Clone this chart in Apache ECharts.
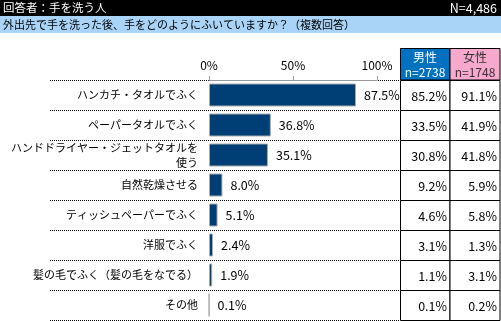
<!DOCTYPE html>
<html><head><meta charset="utf-8">
<script src="https://cdn.jsdelivr.net/npm/echarts@6/dist/echarts.min.js"></script>
<style>html,body{margin:0;padding:0;background:#fff}#c{width:501px;height:321px}</style>
</head><body><div id="c"></div>
<script>
const categories = ['ハンカチ・タオルでふく','ペーパータオルでふく','ハンドドライヤー・ジェットタオルを\n使う','自然乾燥させる','ティッシュペーパーでふく','洋服でふく','髪の毛でふく（髪の毛をなでる）','その他'];
const totalValues = [87.5,36.8,35.1,8.0,5.1,2.4,1.9,0.1];
const maleValues = [85.2,33.5,30.8,9.2,4.6,3.1,1.1,0.1];
const femaleValues = [91.1,41.9,41.8,5.9,5.8,1.3,3.1,0.2];
const xTicks = [0,50,100];
const headerLeft = '回答者：手を洗う人';
const headerRight = 'N=4,486';
const question = '外出先で手を洗った後、手をどのようにふいていますか？（複数回答）';
const maleHeader = ['男性','n=2738'];
const femaleHeader = ['女性','n=1748'];

const FONT = '"Noto Sans CJK JP", sans-serif';
const top0 = 80, rowH = 30, n = categories.length;
const chart = echarts.init(document.getElementById('c'), null, {renderer:'canvas'});

const g = [];
g.push({type:'rect', shape:{x:0,y:0,width:501,height:16}, style:{fill:'#000'}});
g.push({type:'text', x:3, y:8, style:{text:headerLeft, fill:'#fff', font:'11.5px '+FONT, textVerticalAlign:'middle'}});
g.push({type:'text', x:497, y:8, style:{text:headerRight, fill:'#fff', font:'12.5px '+FONT, textAlign:'right', textVerticalAlign:'middle'}});
g.push({type:'rect', shape:{x:0,y:16,width:501,height:17}, style:{fill:'#a9d4f7'}});
g.push({type:'text', x:3, y:24.5, style:{text:question, fill:'#000', font:'11px '+FONT, textVerticalAlign:'middle'}});
// dotted row separators
const dot = {stroke:'#000', lineWidth:1, lineDash:[1,1]};
for (let i=0;i<=n;i++){
  const y = top0 + i*rowH + 0.5;
  if (i===0) {
    g.push({type:'line', shape:{x1:50,y1:y,x2:209,y2:y}, style:dot});
    g.push({type:'line', shape:{x1:378,y1:y,x2:400,y2:y}, style:dot});
  } else {
    g.push({type:'line', shape:{x1:50,y1:y,x2:400,y2:y}, style:dot});
  }
}
// table header
g.push({type:'rect', shape:{x:400.5,y:48.5,width:49.5,height:31.5}, style:{fill:'#0070c0', stroke:'#000', lineWidth:1}});
g.push({type:'rect', shape:{x:450,y:48.5,width:50,height:31.5}, style:{fill:'#f7a8cd', stroke:'#000', lineWidth:1}});
g.push({type:'text', x:425, y:57, style:{text:maleHeader[0], fill:'#fff', font:'12px '+FONT, textAlign:'center', textVerticalAlign:'middle'}});
g.push({type:'text', x:425, y:72, style:{text:maleHeader[1], fill:'#fff', font:'12px '+FONT, textAlign:'center', textVerticalAlign:'middle'}});
g.push({type:'text', x:475, y:57, style:{text:femaleHeader[0], fill:'#333', font:'12px '+FONT, textAlign:'center', textVerticalAlign:'middle'}});
g.push({type:'text', x:475, y:72, style:{text:femaleHeader[1], fill:'#333', font:'12px '+FONT, textAlign:'center', textVerticalAlign:'middle'}});
// table body
for (let i=0;i<n;i++){
  const y = top0 + i*rowH;
  g.push({type:'rect', shape:{x:400.5,y:y+0.5,width:49.5,height:rowH}, style:{fill:'#fff', stroke:'#000', lineWidth:1}});
  g.push({type:'rect', shape:{x:450,y:y+0.5,width:50,height:rowH}, style:{fill:'#fff', stroke:'#000', lineWidth:1}});
  g.push({type:'text', x:447, y:y+rowH/2+1, style:{text:maleValues[i].toFixed(1)+'%', fill:'#000', font:'12.5px '+FONT, textAlign:'right', textVerticalAlign:'middle'}});
  g.push({type:'text', x:497, y:y+rowH/2+1, style:{text:femaleValues[i].toFixed(1)+'%', fill:'#000', font:'12.5px '+FONT, textAlign:'right', textVerticalAlign:'middle'}});
}

chart.setOption({
  animation:false,
  textStyle:{fontFamily:FONT},
  grid:[
    {left:209, right:124, top:top0, height:rowH*n, outerBoundsMode:'none', containLabel:false}
  ],
  xAxis:[
    {gridIndex:0, type:'value', position:'top', min:0, max:100, interval:50,
     axisLine:{show:true, lineStyle:{color:'#999'}},
     axisTick:{show:true, length:4, lineStyle:{color:'#999'}},
     axisLabel:{formatter:v=>xTicks.includes(v)?v+'%':'', color:'#000', fontSize:12, margin:9, fontFamily:FONT},
     splitLine:{show:false}}
  ],
  yAxis:[
    {gridIndex:0, type:'category', data:categories, inverse:true,
     axisLine:{show:false}, axisTick:{show:false},
     axisLabel:{color:'#000', fontSize:11, margin:11, lineHeight:15, fontFamily:FONT}}
  ],
  series:[
    {type:'bar', xAxisIndex:0, yAxisIndex:0, data:totalValues, barWidth:23,
     itemStyle:{color:'#003f75', borderColor:'#aaaaaa', borderWidth:1},
     label:{show:true, position:'right', distance:8, color:'#000', fontSize:12.5, fontFamily:FONT,
            formatter:p=>p.value.toFixed(1)+'%'}}
  ],
  graphic:g
});
</script></body></html>
